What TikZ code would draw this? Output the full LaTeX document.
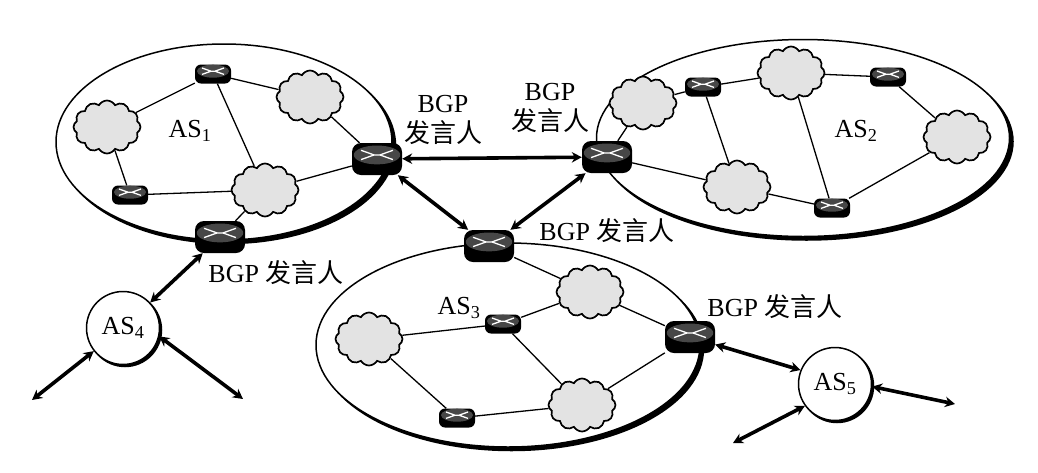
\documentclass[tikz,border=0pt]{standalone}
\usepackage{fontspec}
\setmainfont{Liberation Serif}
\newfontfamily\cjk{Noto Sans CJK SC}
\usetikzlibrary{arrows.meta,shapes.geometric,shapes.symbols,shadows}
\def\spk{BGP}
\def\spkzh{{\cjk 发言人}}
\tikzset{
  assys/.style={ellipse,draw,fill=white,line width=1.5pt,inner sep=0,copy shadow={shadow xshift=3.5pt,shadow yshift=-3.5pt,fill=black,draw=black}},
  lan/.style={cloud,cloud puffs=12,cloud puff arc=120,aspect=1.3,draw,fill=black!11,line width=1.7pt,minimum width=67pt,minimum height=53pt,inner sep=0},
  rtsmall/.style={rounded corners=6pt,fill=black,minimum width=36pt,minimum height=19pt,inner sep=0},
  rtbig/.style={rounded corners=9pt,fill=black,minimum width=50pt,minimum height=32pt,inner sep=0},
  link/.style={line width=1.3pt},
  peer/.style={line width=3.6pt,{Stealth[length=10pt,width=10.5pt]}-{Stealth[length=10pt,width=10.5pt]}},
  txt/.style={font=\fontsize{26}{30}\selectfont,align=center,inner sep=0},
  stub/.style={circle,draw,fill=white,line width=1.5pt,minimum size=73pt,inner sep=0,font=\fontsize{26}{30}\selectfont,copy shadow={shadow xshift=2pt,shadow yshift=-2pt,fill=black,draw=black}}
}
% top face and white cross of a router
\newcommand{\rtface}[2]{
  \begin{scope}[shift={(#1.center)},scale=#2]
    \fill[black!72] (0,-2.8) ellipse [x radius=16,y radius=6.5];
    \draw[white,line width=1.3pt] (-11,-6) -- (-2,-2.8) -- (-11,.4) (11,-6) -- (2,-2.8) -- (11,.4) (-2,-2.8) -- (2,-2.8);
  \end{scope}
}
\newcommand{\rtsmallat}[2]{\node[rtsmall] (#1) at (#2) {}; \rtface{#1}{1}}
\newcommand{\rtbigat}[2]{\node[rtbig] (#1) at (#2) {}; \rtface{#1}{1.45}}

\begin{document}
\begin{tikzpicture}[x=1pt,y=-1pt]
  \useasboundingbox (0,0) rectangle (1038,472);
  \fill[white] (0,0) rectangle (1038,472);

  \node[assys,minimum width=336pt,minimum height=196pt] (asone) at (224,142) {};
  \node[assys,minimum width=413pt,minimum height=197pt] (astwo) at (803,138) {};
  \node[assys,minimum width=384pt,minimum height=204pt] (asthree) at (508,345) {};

  % AS1
  \rtsmallat{ra}{213,74}
  \rtsmallat{rb}{130,195}
  \rtbigat{rc}{377,159}
  \rtbigat{rd}{220,237}
  \node[lan] (la) at (107,127) {};
  \node[lan] (lb) at (310,97) {};
  \node[lan] (lc) at (265,190) {};
  \node[txt] (asonetxt) at (190,131) {AS\textsubscript{1}};
  \draw[link] (ra) -- (la);
  \draw[link] (ra) -- (lb);
  \draw[link] (ra) -- (lc);
  \draw[link] (la) -- (rb);
  \draw[link] (rb) -- (lc);
  \draw[link] (lc) -- (rc);
  \draw[link] (lb) -- (rc);
  \draw[link] (lc) -- (rd);

  % AS2
  \rtbigat{re}{607,157}
  \rtsmallat{rf}{703,87}
  \rtsmallat{rg}{888,77}
  \rtsmallat{rh}{832,208}
  \node[lan] (ld) at (643,103) {};
  \node[lan] (le) at (791,73) {};
  \node[lan] (lf) at (957,137) {};
  \node[lan] (lg) at (737,187) {};
  \node[txt] (astwotxt) at (856,131) {AS\textsubscript{2}};
  \draw[link] (re) -- (ld);
  \draw[link] (re) -- (lg);
  \draw[link] (ld) -- (rf);
  \draw[link] (rf) -- (le);
  \draw[link] (rf) -- (lg);
  \draw[link] (le) -- (rg);
  \draw[link] (rg) -- (lf);
  \draw[link] (le) -- (rh);
  \draw[link] (lf) -- (rh);
  \draw[link] (lg) -- (rh);

  % AS3
  \rtbigat{ri}{489,246}
  \rtsmallat{rj}{503,324}
  \rtsmallat{rk}{457,418}
  \rtbigat{rl}{690,337}
  \node[lan] (lh) at (590,292) {};
  \node[lan] (li) at (369,339) {};
  \node[lan] (lj) at (582,405) {};
  \node[txt] (asthreetxt) at (459,308) {AS\textsubscript{3}};
  \draw[link] (ri) -- (lh);
  \draw[link] (lh) -- (rl);
  \draw[link] (lh) -- (rj);
  \draw[link] (rj) -- (li);
  \draw[link] (rj) -- (lj);
  \draw[link] (li) -- (rk);
  \draw[link] (rk) -- (lj);
  \draw[link] (lj) -- (rl);

  % stub systems
  \node[stub] (asfour) at (123,328) {AS\textsubscript{4}};
  \node[stub] (asfive) at (835,384) {AS\textsubscript{5}};
  \coordinate (fa) at (32,400);
  \coordinate (fb) at (243,399);
  \coordinate (fc) at (733,443);
  \coordinate (fd) at (955,404);

  \draw[peer] (rc) -- (re);
  \draw[peer] (rc) -- (ri);
  \draw[peer] (re) -- (ri);
  \draw[peer] (rd) -- (asfour);
  \draw[peer] (rl) -- (asfive.158);
  \draw[peer] (asfour) -- (fa);
  \draw[peer] (asfour.-13) -- (fb);
  \draw[peer] (asfive.216) -- (fc);
  \draw[peer] (asfive.-4) -- (fd);

  \node[txt] (spka) at (443,120) {\spk\\\spkzh};
  \node[txt] (spkb) at (550,108) {\spk\\\spkzh};
  \node[txt] (spkc) at (607,231) {\spk\ \spkzh};
  \node[txt] (spkd) at (276,273) {\spk\ \spkzh};
  \node[txt] (spke) at (775,307) {\spk\ \spkzh};
\end{tikzpicture}
\end{document}
